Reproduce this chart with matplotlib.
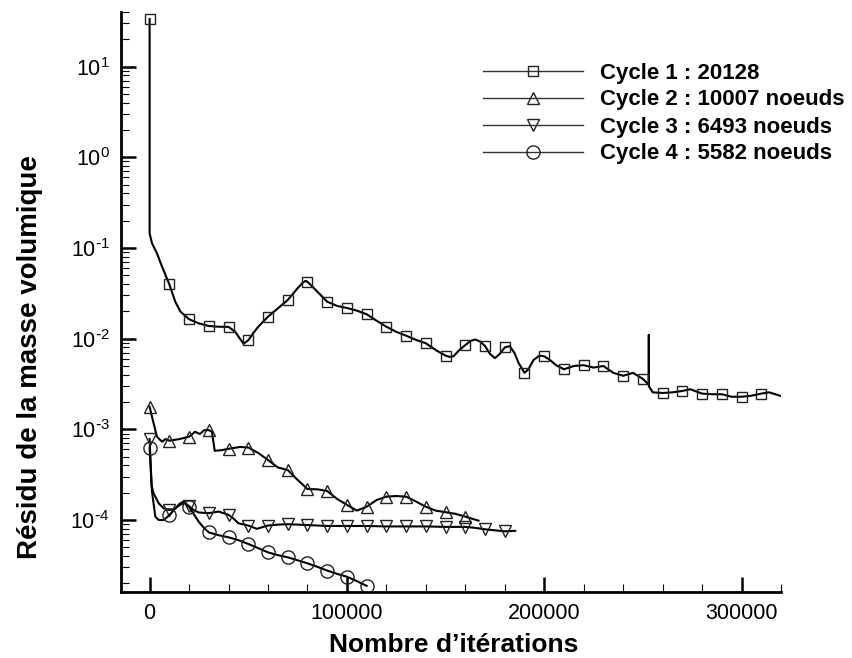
import matplotlib
matplotlib.use("Agg")
import matplotlib.pyplot as plt
import numpy as np
from matplotlib.lines import Line2D
from matplotlib.ticker import MultipleLocator, FixedLocator, NullFormatter, FuncFormatter

plt.rcParams['font.family'] = ['Liberation Sans', 'DejaVu Sans']
plt.rcParams['mathtext.default'] = 'regular'
plt.rcParams['axes.unicode_minus'] = False

# ---- data ----
labels = ["Cycle 1 : 20128", "Cycle 2 : 10007 noeuds",
          "Cycle 3 : 6493 noeuds", "Cycle 4 : 5582 noeuds"]

c1_x = [0, 0, 1200, 3700, 6300, 10000, 13000, 15600, 20000, 24800, 30000, 35000,
        40000, 43400, 45500, 47600, 50000, 52500, 55000, 60000, 65000, 70000, 75000,
        77500, 79000, 80000, 82500, 85000, 90000, 95000, 100000, 105000, 110000, 115000,
        120000, 125000, 130000, 135000, 140000, 145000, 150000, 152000, 154000, 157000,
        160000, 162500, 165000, 167500, 170000, 172500, 175000, 177500, 180000, 182500,
        185000, 187000, 190000, 192000, 194500, 197500, 200000, 203000, 206000, 210000,
        215000, 220000, 225000, 230000, 235000, 240000, 245000, 250000, 253000, 253000,
        253000, 255000, 260000, 265000, 270000, 274000, 280000, 285000, 290000, 295000,
        300000, 305000, 310000, 314000, 319500]
c1_y = [33.6, 0.145, 0.113, 0.0875, 0.0623, 0.0398, 0.0256, 0.0199, 0.0164, 0.0148,
        0.0138, 0.01355, 0.0135, 0.0119, 0.0102, 0.0088, 0.0096, 0.0115, 0.0135, 0.0175,
        0.0216, 0.0267, 0.036, 0.0412, 0.0434, 0.0425, 0.0375, 0.033, 0.0256, 0.0230,
        0.0218, 0.0204, 0.0186, 0.0158, 0.01355, 0.0119, 0.0108, 0.0097, 0.0089, 0.0075,
        0.0065, 0.0063, 0.0064, 0.0075, 0.0085, 0.0094, 0.0098, 0.0093, 0.0083, 0.0068,
        0.0061, 0.0068, 0.0080, 0.0083, 0.0069, 0.0054, 0.0042, 0.0046, 0.0058, 0.0065,
        0.0064, 0.0058, 0.0051, 0.0046, 0.0050, 0.0051, 0.0048, 0.0050, 0.0042, 0.0039,
        0.0042, 0.0036, 0.0031, 0.011, 0.0030, 0.00256, 0.00252, 0.00256, 0.00265,
        0.00277, 0.00248, 0.00244, 0.00244, 0.00229, 0.00229, 0.00235, 0.00248, 0.00256,
        0.00235]

c2_x = [0, 1200, 3700, 6300, 8000, 10000, 15000, 20000, 23000, 25500, 27700, 30000,
        31600, 33000, 36500, 40000, 46000, 50000, 55000, 60000, 65000, 70000, 75000,
        80000, 85000, 90000, 95000, 100000, 105000, 110000, 115000, 120000, 125000,
        130000, 135000, 140000, 145000, 150000, 155000, 160000, 166700]
c2_y = [1.78e-3, 1.38e-3, 8.3e-4, 7.3e-4, 7.8e-4, 7.5e-4, 7.8e-4, 8.3e-4, 9.4e-4,
        8.9e-4, 9.8e-4, 9.8e-4, 9.4e-4, 5.8e-4, 5.9e-4, 6.1e-4, 6.4e-4, 6.3e-4, 5.5e-4,
        4.6e-4, 3.8e-4, 3.56e-4, 2.77e-4, 2.2e-4, 2.18e-4, 2.09e-4, 1.71e-4, 1.47e-4,
        1.27e-4, 1.40e-4, 1.66e-4, 1.81e-4, 1.84e-4, 1.81e-4, 1.60e-4, 1.40e-4, 1.27e-4,
        1.22e-4, 1.17e-4, 1.09e-4, 9.84e-5]

c3_x = [0, 1000, 2000, 4600, 7100, 10000, 12500, 15000, 17500, 20000, 22500, 25000,
        30000, 35000, 40000, 42500, 45000, 50000, 54400, 60000, 65000, 70000, 80000,
        90000, 100000, 110000, 120000, 130000, 140000, 150000, 160000, 165000, 170000,
        175000, 180000, 185300]
c3_y = [7.8e-4, 2.4e-4, 1.97e-4, 1.53e-4, 1.35e-4, 1.29e-4, 1.32e-4, 1.45e-4, 1.55e-4,
        1.42e-4, 1.28e-4, 1.21e-4, 1.19e-4, 1.24e-4, 1.14e-4, 1.04e-4, 9.2e-5, 8.7e-5,
        8.0e-5, 8.7e-5, 8.9e-5, 9.0e-5, 8.8e-5, 8.6e-5, 8.6e-5, 8.6e-5, 8.5e-5, 8.5e-5,
        8.5e-5, 8.4e-5, 8.4e-5, 8.2e-5, 7.9e-5, 7.7e-5, 7.5e-5, 7.6e-5]

c4_x = [0, 1200, 2900, 4600, 7100, 10000, 12500, 15000, 17200, 20000, 22500, 25000,
        27500, 30000, 35000, 40000, 45000, 50000, 55000, 60000, 65000, 70000, 75000,
        80000, 85000, 90000, 95000, 100000, 105000, 110000]
c4_y = [6.2e-4, 2.06e-4, 1.09e-4, 1.0e-4, 1.0e-4, 1.13e-4, 1.3e-4, 1.5e-4, 1.6e-4,
        1.4e-4, 1.15e-4, 9.5e-5, 8.2e-5, 7.3e-5, 6.8e-5, 6.45e-5, 6.0e-5, 5.45e-5, 4.9e-5,
        4.4e-5, 4.1e-5, 3.88e-5, 3.6e-5, 3.33e-5, 3.05e-5, 2.77e-5, 2.55e-5, 2.37e-5,
        2.12e-5, 1.88e-5]

x_ticks = [0, 100000, 200000, 300000]
y_exponents = [-4, -3, -2, -1, 0, 1]
marker_step = 10000

series = [(c1_x, c1_y, 's', 7.5), (c2_x, c2_y, '^', 8.5),
          (c3_x, c3_y, 'v', 8.5), (c4_x, c4_y, 'o', 9.5)]

fig = plt.figure(figsize=(8.53, 6.58), dpi=100)
ax = fig.add_axes([121/853, 1-591.7/658, 660/853, 580/658])

handles = []
for (xs, ys, mk, ms), lab in zip(series, labels):
    seen = set()
    idx = []
    for i, xv in enumerate(xs):
        if xv % marker_step == 0 and xv not in seen:
            idx.append(i)
            seen.add(xv)
    ax.plot(xs, ys, color='black', lw=1.5, marker=mk, ms=ms, markevery=idx,
            mfc='none', mec='#222222', mew=1.0)
    handles.append(Line2D([], [], color='#333333', lw=1.0, marker=mk, ms=ms,
                          mfc='none', mec='#222222', mew=1.0))

ax.set_yscale('log')
ax.set_xlim(-14500, 320000)
ax.set_ylim(1.62e-5, 40.4)

ax.xaxis.set_major_locator(FixedLocator(x_ticks))
ax.xaxis.set_minor_locator(MultipleLocator(20000))
ax.xaxis.set_minor_formatter(NullFormatter())
ax.xaxis.set_major_formatter(FuncFormatter(lambda v, p: "%d" % v))

y_major = [10.0 ** e for e in y_exponents]
y_minor = [m * 10.0 ** e for e in range(-5, 2) for m in range(2, 10)
           if 1.62e-5 <= m * 10.0 ** e <= 40.4]
ax.yaxis.set_major_locator(FixedLocator(y_major))
ax.yaxis.set_minor_locator(FixedLocator(y_minor))
ax.yaxis.set_minor_formatter(NullFormatter())


def yfmt(v, p):
    e = int(round(np.log10(v)))
    if e < 0:
        return r"$10^{\text{-}%d}$" % (-e)
    return r"$10^{%d}$" % e


ax.yaxis.set_major_formatter(FuncFormatter(yfmt))

for s in ['top', 'right']:
    ax.spines[s].set_visible(False)
for s in ['left', 'bottom']:
    ax.spines[s].set_linewidth(2.0)

ax.tick_params(which='major', direction='in', length=11, width=1.8, labelsize=15.5, pad=8)
ax.tick_params(which='minor', direction='in', length=6, width=0.8)

ax.set_xlabel("Nombre d’itérations", fontsize=19, fontweight='bold', va='center')
ax.xaxis.set_label_coords((453.5-121)/660, (591.7-645)/580)
ax.set_ylabel("Résidu de la masse volumique", fontsize=20, fontweight='bold',
              va='center', ha='center')
ax.yaxis.set_label_coords((30-121)/660, (591.7-357)/580)

leg = fig.legend(handles, labels, loc='center left',
                 bbox_to_anchor=(483/853, 1-113.5/658), bbox_transform=fig.transFigure,
                 frameon=False, prop={'weight': 'bold', 'size': 16},
                 handlelength=4.5, handletextpad=0.75, labelspacing=0.27,
                 borderpad=0, borderaxespad=0, numpoints=1)

fig.savefig("out.png", dpi=100)
